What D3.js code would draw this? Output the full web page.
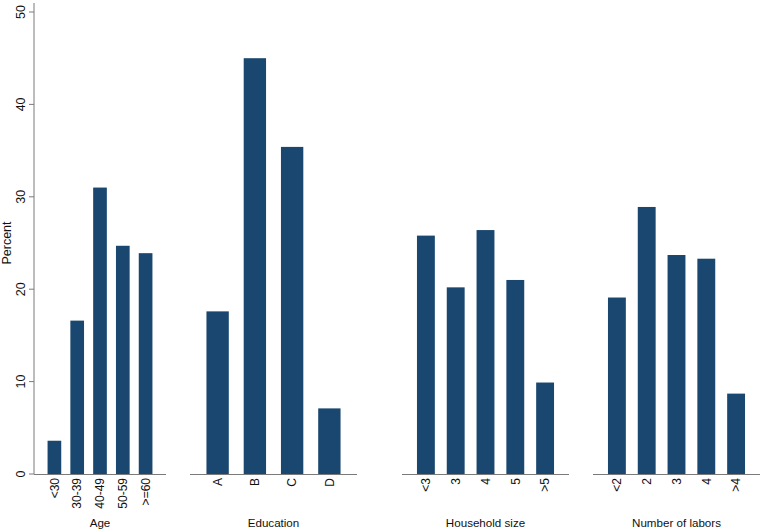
<!DOCTYPE html>
<html><head><meta charset="utf-8">
<script src="https://cdn.jsdelivr.net/npm/d3@7"></script>
<style>body{margin:0;background:#fff;} svg{display:block;font-family:"Liberation Sans",Arial,sans-serif;}</style>
</head><body>
<svg id="c" width="762" height="532"></svg>
<script>
const panelTitles = ["Age", "Education", "Household size", "Number of labors"];
const ageCats = ["<30", "30-39", "40-49", "50-59", ">=60"];
const ageVals = [3.6, 16.6, 31.0, 24.7, 23.9];
const eduCats = ["A", "B", "C", "D"];
const eduVals = [17.6, 45.0, 35.4, 7.1];
const hhCats = ["<3", "3", "4", "5", ">5"];
const hhVals = [25.8, 20.2, 26.4, 21.0, 9.9];
const labCats = ["<2", "2", "3", "4", ">4"];
const labVals = [19.1, 28.9, 23.7, 23.3, 8.7];
const yTicks = [0, 10, 20, 30, 40, 50];

const panels = [
  {title: panelTitles[0], cats: ageCats, vals: ageVals, x0: 34, x1: 166},
  {title: panelTitles[1], cats: eduCats, vals: eduVals, x0: 190, x1: 357},
  {title: panelTitles[2], cats: hhCats, vals: hhVals, x0: 402, x1: 569},
  {title: panelTitles[3], cats: labCats, vals: labVals, x0: 593, x1: 760}
];

const svg = d3.select("#c");
const y = d3.scaleLinear().domain([0, 50]).range([474, 12]);
const barColor = "#1a476f";
const axisColor = "#7a7a7a";

// Y axis
const ya = svg.append("g");
ya.append("line").attr("x1", 34).attr("x2", 34).attr("y1", 3).attr("y2", y(0))
  .attr("stroke", axisColor).attr("stroke-width", 1);
yTicks.forEach(t => {
  ya.append("line").attr("x1", 29).attr("x2", 34).attr("y1", y(t)).attr("y2", y(t))
    .attr("stroke", axisColor).attr("stroke-width", 1);
  ya.append("text").attr("transform", `translate(25,${y(t)}) rotate(-90)`)
    .attr("text-anchor", "middle").attr("font-size", 12.5).attr("fill", "#111").text(t);
});
svg.append("text").attr("transform", `translate(11,${y(25)}) rotate(-90)`)
  .attr("text-anchor", "middle").attr("font-size", 12.5).attr("fill", "#111").text("Percent");

panels.forEach(p => {
  const g = svg.append("g");
  const x = d3.scaleBand().domain(p.cats).range([p.x0 + 9, p.x1 - 9])
    .paddingInner(0.4).paddingOuter(0.2);
  g.selectAll("rect").data(p.cats).join("rect")
    .attr("x", d => x(d)).attr("width", x.bandwidth())
    .attr("y", (d, i) => y(p.vals[i])).attr("height", (d, i) => y(0) - y(p.vals[i]))
    .attr("fill", barColor);
  g.append("line").attr("x1", p.x0).attr("x2", p.x1).attr("y1", y(0) + 0.5).attr("y2", y(0) + 0.5)
    .attr("stroke", axisColor).attr("stroke-width", 1);
  g.selectAll("text.cat").data(p.cats).join("text").attr("class", "cat")
    .attr("transform", d => `translate(${x(d) + x.bandwidth() / 2},478) rotate(-90)`)
    .attr("dy", "0.35em").attr("text-anchor", "end").attr("font-size", 12).attr("fill", "#111")
    .text(d => d);
  g.append("text").attr("x", (p.x0 + p.x1) / 2).attr("y", 527)
    .attr("text-anchor", "middle").attr("font-size", 11.6).attr("fill", "#111").text(p.title);
});
</script>
</body></html>
